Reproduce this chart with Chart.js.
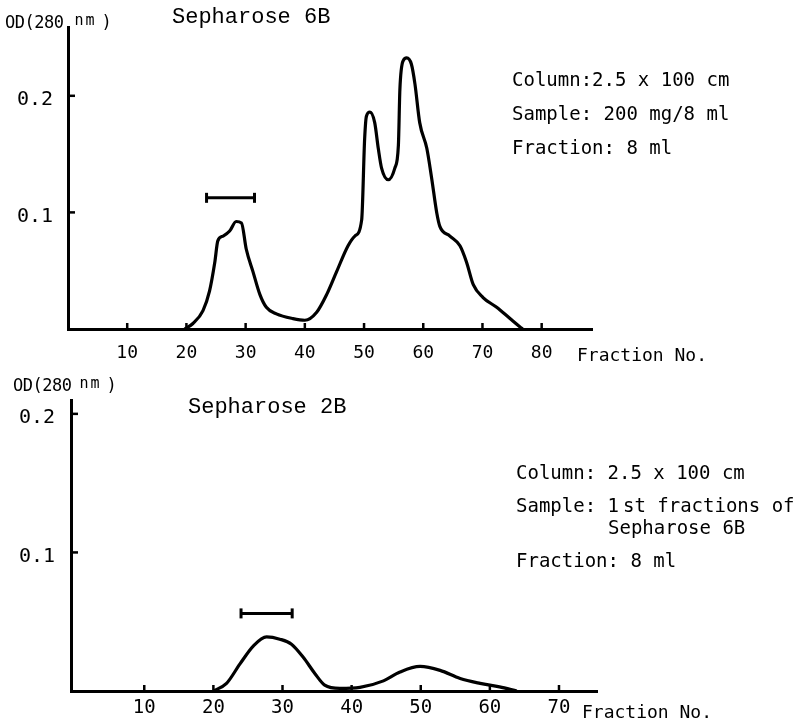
<!DOCTYPE html>
<html>
<head>
<meta charset="utf-8">
<script src="https://cdn.jsdelivr.net/npm/chart.js@4"></script>
<style>
  body { margin: 0; background: #fff; }
  #page { position: relative; width: 800px; height: 719px; overflow: hidden; background: #fff; }
  .panel { position: absolute; left: 0; width: 800px; }
  .txt { position: absolute; color: #000; white-space: nowrap; transform: translateY(-50%); line-height: 1; }
  .mono { font-family: "DejaVu Sans Mono", monospace; font-size: 19px; }
  .cour { font-family: "Liberation Mono", monospace; font-size: 22px; }
  .od { font-family: "DejaVu Sans Mono", monospace; font-size: 17px; letter-spacing: -0.5px; }
  .od .nm { font-size: 15px; letter-spacing: 2px; position: relative; top: -3px; margin-left: 11px; margin-right: 5px; }
</style>
</head>
<body>
<div id="page">
  <div class="panel" style="top:0;height:372px"><canvas id="top6B" width="800" height="372"></canvas></div>
  <div class="panel" style="top:372px;height:347px"><canvas id="bottom2B" width="800" height="347"></canvas></div>

  <div class="txt od" style="left:5px;top:22px">OD(280<span class="nm">nm</span>)</div>
  <div class="txt cour" style="left:172px;top:18px">Sepharose 6B</div>
  <div class="txt mono" style="left:512px;top:79px">Column:2.5 x 100 cm</div>
  <div class="txt mono" style="left:512px;top:113px">Sample: 200 mg/8 ml</div>
  <div class="txt mono" style="left:512px;top:147px">Fraction: 8 ml</div>
  <div class="txt mono" style="left:577px;top:355px;font-size:18px">Fraction No.</div>

  <div class="txt od" style="left:13px;top:385px">OD(280<span class="nm" style="margin-left:8px">nm</span>)</div>
  <div class="txt cour" style="left:188px;top:408px">Sepharose 2B</div>
  <div class="txt mono" style="left:516px;top:472px">Column: 2.5 x 100 cm</div>
  <div class="txt mono" style="left:516px;top:505px">Sample: 1<span style="margin-left:4px">st</span> fractions of</div>
  <div class="txt mono" style="left:608px;top:527px">Sepharose 6B</div>
  <div class="txt mono" style="left:516px;top:560px">Fraction: 8 ml</div>
  <div class="txt mono" style="left:582px;top:712px;font-size:18px">Fraction No.</div>
</div>

<script>
// values
const xTicks6B = [10, 20, 30, 40, 50, 60, 70, 80];
const xTicks2B = [10, 20, 30, 40, 50, 60, 70];
const yTicks6B = [0.1, 0.2];
const yTicks2B = [0.1, 0.2];

// Sepharose 6B elution profile
const frac6B = [19.7, 21.1, 22.8, 23.9, 24.8, 25.3, 26.2, 27.3, 28.4, 29.3, 30.1, 31.25, 32.4, 33.5, 35.2, 38.0, 40.0,
                42.0, 43.7, 45.35, 47.3, 48.45, 49.6, 50.1, 50.4, 51.0, 51.8, 52.4, 52.96, 54.1, 55.2, 55.8, 56.05, 56.6,
                57.2, 58.0, 58.6, 59.4, 60.6, 61.4, 62.3, 62.8, 64.5, 66.2, 67.3, 68.45, 70.1, 72.4, 74.65, 76.3, 76.8];
const od6B   = [0, 0.0047, 0.0158, 0.0325, 0.0575, 0.0756, 0.0797, 0.084, 0.0922, 0.091, 0.0686, 0.049, 0.0297, 0.0186, 0.013, 0.0089, 0.0075,
                0.0144, 0.0297, 0.049, 0.0714, 0.0797, 0.0936, 0.163, 0.1825, 0.186, 0.177, 0.155, 0.138, 0.128, 0.138, 0.1575, 0.205, 0.23,
                0.2325, 0.227, 0.21, 0.177, 0.155, 0.13, 0.099, 0.088, 0.0797, 0.0714, 0.0575, 0.038, 0.027, 0.0186, 0.009, 0.002, 0];

// Sepharose 2B elution profile
const frac2B = [20.0, 21.9, 23.85, 25.8, 27.7, 29.6, 31.3, 33.0, 34.7, 36.1, 38.3, 41.2, 44.6, 47.0, 49.9, 52.8, 55.7, 58.6, 61.4, 63.9];
const od2B   = [0, 0.0055, 0.0196, 0.0326, 0.039, 0.0374, 0.0338, 0.0243, 0.0125, 0.0043, 0.0019, 0.0026, 0.0073, 0.0137, 0.0177, 0.0149, 0.009, 0.0055, 0.003, 0];

// pooled fractions (bar above first peak)
const pool6B = [23.4, 31.5];
const poolOD6B = 0.1125;
const pool2B = [24.0, 31.4];
const poolOD2B = 0.056;

const ink = "#000";

// ticks in the scan point inward, into the plot
const innerTicks = {
    id: "innerTicks",
    afterDraw(chart) {
        const { ctx, scales: { x, y } } = chart;
        ctx.save();
        ctx.strokeStyle = ink;
        ctx.lineWidth = 2.5;
        x.ticks.forEach(t => {
            const px = x.getPixelForValue(t.value);
            ctx.beginPath();
            ctx.moveTo(px, x.top);
            ctx.lineTo(px, x.top - 6);
            ctx.stroke();
        });
        y.ticks.forEach(t => {
            const py = y.getPixelForValue(t.value);
            ctx.beginPath();
            ctx.moveTo(y.right, py);
            ctx.lineTo(y.right + 7, py);
            ctx.stroke();
        });
        ctx.restore();
    }
};

function makeChart(id, opts) {
    const curve = opts.frac.map((f, i) => ({ x: f, y: opts.od[i] }));
    const pool = opts.pool.map(f => ({ x: f, y: opts.poolOD }));
    return new Chart(document.getElementById(id), {
        type: "line",
        data: {
            datasets: [
                {
                    data: curve,
                    borderColor: ink,
                    borderWidth: 3.2,
                    pointRadius: 0,
                    cubicInterpolationMode: "monotone",
                    fill: false
                },
                {
                    data: pool,
                    borderColor: ink,
                    borderWidth: 3,
                    pointStyle: "line",
                    pointRotation: 90,
                    pointRadius: 5,
                    pointBorderWidth: 3,
                    pointBorderColor: ink
                }
            ]
        },
        options: {
            responsive: false,
            animation: false,
            devicePixelRatio: 1,
            layout: { padding: opts.padding },
            plugins: { legend: { display: false }, tooltip: { enabled: false } },
            scales: {
                x: {
                    type: "linear",
                    min: opts.xMin,
                    max: opts.xMax,
                    afterBuildTicks: s => { s.ticks = opts.xTicks.map(v => ({ value: v })); },
                    afterFit: s => { s.height = opts.xHeight; },
                    grid: { display: false, drawTicks: false },
                    border: { display: true, color: ink, width: 3 },
                    ticks: {
                        color: ink,
                        padding: opts.xPad,
                        maxRotation: 0,
                        autoSkip: false,
                        font: { family: "DejaVu Sans Mono", size: opts.xFont },
                        callback: v => String(v)
                    }
                },
                y: {
                    min: 0,
                    max: opts.yMax,
                    afterBuildTicks: s => { s.ticks = opts.yTicks.map(v => ({ value: v })); },
                    afterFit: s => { s.width = opts.yWidth; },
                    grid: { display: false, drawTicks: false },
                    border: { display: true, color: ink, width: 3 },
                    ticks: {
                        color: ink,
                        padding: opts.yPad,
                        labelOffset: opts.yLabelOffset,
                        font: { family: "DejaVu Sans Mono", size: 20 },
                        callback: v => v.toFixed(1)
                    }
                }
            }
        },
        plugins: [innerTicks]
    });
}

makeChart("top6B", {
    frac: frac6B, od: od6B, pool: pool6B, poolOD: poolOD6B,
    xMin: 0, xMax: 88.5, yMax: 0.259,
    xTicks: xTicks6B, yTicks: yTicks6B,
    padding: { top: 18, right: 208, left: 0, bottom: 0 },
    xHeight: 43, yWidth: 68, xPad: 14, yPad: 15, yLabelOffset: 4, xFont: 18
});

makeChart("bottom2B", {
    frac: frac2B, od: od2B, pool: pool2B, poolOD: poolOD2B,
    xMin: -0.6, xMax: 75.5, yMax: 0.21,
    xTicks: xTicks2B, yTicks: yTicks2B,
    padding: { top: 23, right: 203, left: 0, bottom: 0 },
    xHeight: 28, yWidth: 71, xPad: 6, yPad: 16, yLabelOffset: 4, xFont: 19
});
</script>
</body>
</html>
